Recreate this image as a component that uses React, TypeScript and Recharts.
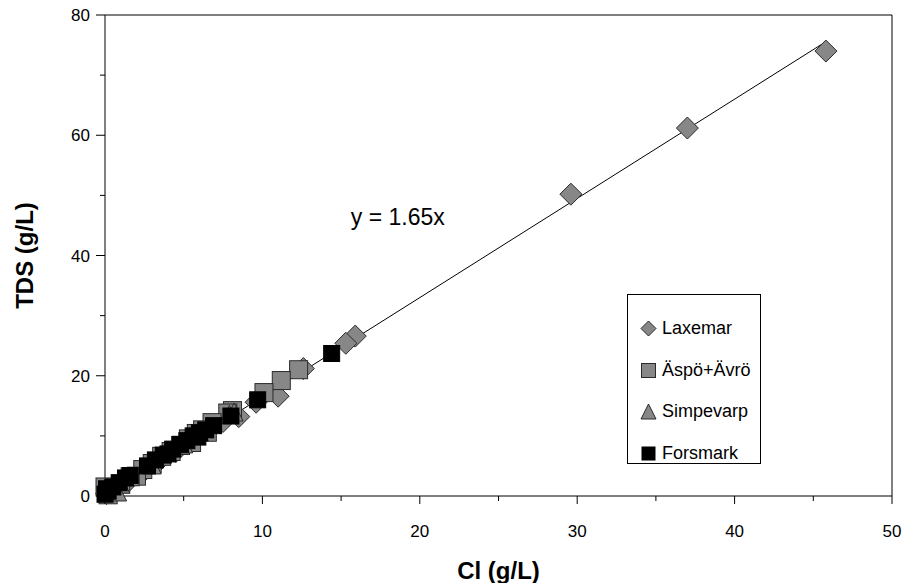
import React from "react";
import {
  ScatterChart,
  Scatter,
  XAxis,
  YAxis,
  ReferenceLine,
  ReferenceDot,
  Legend,
} from "recharts";

// [Cl, TDS] in g/L
const laxemar: [number, number][] = [
  [45.8, 74.0], [37.0, 61.2], [29.6, 50.2], [15.9, 26.6], [15.3, 25.4],
  [12.6, 21.2], [11.0, 16.6], [9.6, 15.6], [8.5, 13.2], [7.5, 12.4],
  [5.5, 9.0], [4.5, 7.4], [3.5, 6.0], [2.5, 4.2], [1.5, 2.5],
  [0.8, 1.5], [0.3, 0.6], [0.1, 0.4], [0.2, 1.2],
];
const aspoAvro: [number, number][] = [
  [12.3, 21.0], [11.2, 19.2], [10.1, 17.2], [8.1, 14.2], [7.8, 13.8],
  [6.8, 12.2], [6.2, 11.0], [5.8, 10.4], [5.3, 9.5], [4.8, 8.4],
  [4.2, 7.4], [3.6, 6.6], [3.0, 5.4], [2.4, 4.4], [2.0, 3.3],
  [1.6, 3.2], [1.0, 2.0], [0.5, 1.2], [0.1, 0.5], [0.0, 1.5],
  [0.2, 0.2], [5.5, 8.9], [6.5, 10.6],
];
const simpevarp: [number, number][] = [
  [8.2, 13.8], [7.9, 13.4], [6.0, 10.5], [5.0, 8.5], [3.0, 5.0],
  [1.0, 1.8], [0.3, 0.8], [0.8, 0.5],
];
const forsmark: [number, number][] = [
  [14.4, 23.7], [9.7, 16.0], [8.0, 13.3], [6.9, 11.7], [6.4, 11.0],
  [6.0, 10.5], [5.9, 9.8], [5.6, 10.0], [5.2, 9.2], [4.8, 8.6],
  [4.3, 7.8], [4.0, 7.0], [3.7, 6.8], [3.2, 6.0], [2.7, 5.0],
  [1.6, 3.4], [1.3, 3.0], [0.9, 2.2], [0.5, 1.5], [0.2, 0.8],
  [0.0, 0.3], [0.1, 1.2],
];

const slope = 1.65;
const fitEndCl = 45.7;

const xTicks = [0, 5, 10, 15, 20, 25, 30, 35, 40, 45, 50];
const yTicks = [0, 10, 20, 30, 40, 50, 60, 70, 80];

const toPoints = (arr: [number, number][]) => arr.map(([cl, tds]) => ({ cl, tds }));

const FONT = "'Liberation Sans', Arial, sans-serif";
const GREY = "#878787";
const EDGE = "#2a2a2a";

const Diamond = ({ cx, cy }: any) => {
  const r = 11;
  return (
    <polygon
      points={`${cx},${cy - r} ${cx + r},${cy} ${cx},${cy + r} ${cx - r},${cy}`}
      fill={GREY}
      stroke={EDGE}
    />
  );
};

const GreySquare = ({ cx, cy }: any) => (
  <rect x={cx - 9} y={cy - 9} width={18} height={18} fill={GREY} stroke={EDGE} />
);

const Triangle = ({ cx, cy }: any) => (
  <polygon
    points={`${cx},${cy - 10} ${cx + 9},${cy + 8} ${cx - 9},${cy + 8}`}
    fill={GREY}
    stroke={EDGE}
  />
);

const BlackSquare = ({ cx, cy }: any) => (
  <rect x={cx - 8} y={cy - 8} width={16} height={16} fill="#000" stroke="#000" />
);

const XTick = ({ x, y, payload }: any) => {
  const major = payload.value % 10 === 0;
  return (
    <g>
      <line x1={x} x2={x} y1={y} y2={y + (major ? 8 : 5)} stroke="#000" />
      {major && (
        <text x={x} y={y + 41} textAnchor="middle" fontSize={17} fontFamily={FONT} fill="#000">
          {payload.value}
        </text>
      )}
    </g>
  );
};

const YTick = ({ x, y, payload }: any) => {
  const major = payload.value % 20 === 0;
  return (
    <g>
      <line x1={x} x2={x - (major ? 9 : 5)} y1={y} y2={y} stroke="#000" />
      {major && (
        <text x={x - 15} y={y + 6} textAnchor="end" fontSize={17} fontFamily={FONT} fill="#000">
          {payload.value}
        </text>
      )}
    </g>
  );
};

const legendItems = [
  { name: "Laxemar", icon: "diamond" },
  { name: "Äspö+Ävrö", icon: "grey" },
  { name: "Simpevarp", icon: "triangle" },
  { name: "Forsmark", icon: "black" },
];

const LegendIcon = ({ icon }: { icon: string }) => (
  <svg width={17} height={17} style={{ marginRight: 5 }}>
    {icon === "diamond" && <polygon points="8.5,1 16,8.5 8.5,16 1,8.5" fill={GREY} stroke={EDGE} />}
    {icon === "grey" && <rect x={1.5} y={1.5} width={14} height={14} fill={GREY} stroke={EDGE} />}
    {icon === "triangle" && <polygon points="8.5,1 16,16 1,16" fill={GREY} stroke={EDGE} />}
    {icon === "black" && <rect x={1.5} y={1.5} width={14} height={14} fill="#000" />}
  </svg>
);

const LegendBox = () => (
  <div
    style={{
      border: "1px solid #000",
      background: "#fff",
      width: 134,
      height: 170,
      boxSizing: "border-box",
      padding: "13px 0 0 12px",
      fontFamily: FONT,
      fontSize: 18,
    }}
  >
    {legendItems.map((it) => (
      <div key={it.name} style={{ display: "flex", alignItems: "center", height: 41.5 }}>
        <LegendIcon icon={it.icon} />
        <span>{it.name}</span>
      </div>
    ))}
  </div>
);

export default function App() {
  return (
    <div style={{ position: "absolute", left: 0, top: 0, background: "#fff" }}>
      <ScatterChart
        width={902}
        height={583}
        margin={{ top: 15, right: 10, left: 0, bottom: 0 }}
      >
        <XAxis
          type="number"
          dataKey="cl"
          domain={[0, 50]}
          ticks={xTicks}
          interval={0}
          tickSize={0}
          tickMargin={0}
          tickLine={false}
          tick={<XTick />}
          height={87}
          axisLine={{ stroke: "#000" }}
          label={{
            value: "Cl (g/L)",
            position: "insideBottom",
            offset: 4,
            style: { fontFamily: FONT, fontSize: 24, fontWeight: 700, fill: "#000" },
          }}
        />
        <YAxis
          type="number"
          dataKey="tds"
          domain={[0, 80]}
          ticks={yTicks}
          interval={0}
          tickSize={0}
          tickMargin={0}
          tickLine={false}
          tick={<YTick />}
          width={105}
          axisLine={{ stroke: "#000" }}
          label={{
            value: "TDS (g/L)",
            angle: -90,
            position: "insideLeft",
            offset: 24,
            style: { textAnchor: "middle", fontFamily: FONT, fontSize: 24, fontWeight: 700, fill: "#000" },
          }}
        />
        <ReferenceLine y={80} stroke="#000" />
        <ReferenceLine x={50} stroke="#000" />
        <Legend
          layout="vertical"
          align="center"
          verticalAlign="middle"
          content={<LegendBox />}
          wrapperStyle={{ left: 627, top: 294, width: 134, height: 170 }}
        />
        <Scatter name="Laxemar" data={toPoints(laxemar)} shape={<Diamond />} isAnimationActive={false} />
        <Scatter name="Äspö+Ävrö" data={toPoints(aspoAvro)} shape={<GreySquare />} isAnimationActive={false} />
        <Scatter name="Simpevarp" data={toPoints(simpevarp)} shape={<Triangle />} isAnimationActive={false} />
        <Scatter name="Forsmark" data={toPoints(forsmark)} shape={<BlackSquare />} isAnimationActive={false} />
        <ReferenceLine
          segment={[
            { x: 0, y: 0 },
            { x: fitEndCl, y: slope * fitEndCl },
          ]}
          stroke="#000"
          strokeWidth={1}
        />
        <ReferenceDot
          x={18.6}
          y={46.4}
          r={0}
          fill="none"
          stroke="none"
          label={{
            value: "y = 1.65x",
            position: "center",
            style: { fontFamily: FONT, fontSize: 23, fill: "#000" },
          }}
        />
      </ScatterChart>
    </div>
  );
}
